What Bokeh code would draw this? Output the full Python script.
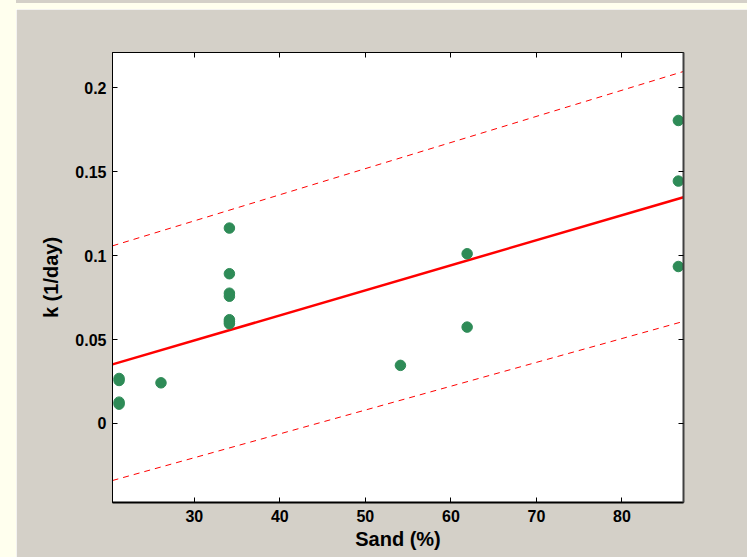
from bokeh.plotting import figure
from bokeh.models import LinearAxis, FixedTicker, Range1d, Div
from bokeh.layouts import row, column
from bokeh.embed import file_html
from bokeh.resources import INLINE

# ---- data ----
sand = [21.2, 21.2, 21.2, 21.2, 26.1, 34.1, 34.1, 34.1, 34.1, 34.1, 34.1, 34.1,
        54.1, 61.9, 61.9, 86.6, 86.6, 86.6]
k = [0.0268, 0.0256, 0.0127, 0.0115, 0.0242, 0.1164, 0.0892, 0.0776, 0.0758,
     0.0618, 0.0606, 0.0594, 0.0346, 0.1011, 0.0574, 0.1805, 0.1444, 0.0935]

fit_x = [20.43, 87.2]
fit_y = [0.0352, 0.1348]
upper_y = [0.1058, 0.2097]
lower_y = [-0.0340, 0.0608]

x_ticks = [30, 40, 50, 60, 70, 80]
y_ticks = [0, 0.05, 0.1, 0.15, 0.2]
y_tick_labels = ["0", "0.05", "0.1", "0.15", "0.2"]

GRAY = "#d4d0c8"
CREAM = "#ffffee"
FONT = "Liberation Sans"

p = figure(width=731, height=548, output_backend="svg", toolbar_location=None,
           x_range=Range1d(20.43, 87.2), y_range=Range1d(-0.0471, 0.2210),
           background_fill_color="white", border_fill_color=GRAY,
           min_border_left=96, min_border_right=64, min_border_top=43, min_border_bottom=55,
           x_axis_label="Sand (%)", y_axis_label="k (1/day)", margin=0)
p.grid.visible = False
p.outline_line_color = "black"
p.outline_line_width = 1

# lines
p.line(fit_x, upper_y, line_color="red", line_width=1, line_dash="6 5")
p.line(fit_x, lower_y, line_color="red", line_width=1, line_dash="6 5")
p.line(fit_x, fit_y, line_color="red", line_width=2.5)
p.scatter(sand, k, size=10.5, fill_color="#2e8b57", line_color="#2e8b57")

def style_axis(ax, show_labels=True):
    ax.major_tick_in = 5
    ax.major_tick_out = 0
    ax.minor_tick_in = 0
    ax.minor_tick_out = 0
    ax.major_tick_line_color = "black"
    ax.axis_line_color = "black"
    ax.major_label_text_font = FONT
    ax.major_label_text_font_style = "bold"
    ax.major_label_text_font_size = "16px"
    ax.major_label_text_color = "black"
    ax.axis_label_text_font = FONT
    ax.axis_label_text_font_style = "bold"
    ax.axis_label_text_font_size = "20px"
    ax.axis_label_text_color = "black"
    if not show_labels:
        ax.major_label_text_color = None
        ax.major_label_text_font_size = "0px"
        ax.major_label_standoff = 0

xa = p.xaxis[0]
xa.ticker = FixedTicker(ticks=x_ticks)
style_axis(xa)
xa.axis_line_width = 2
xa.major_label_standoff = 7
xa.axis_label_standoff = 3

ya = p.yaxis[0]
ya.ticker = FixedTicker(ticks=y_ticks)
ya.major_label_overrides = {t: s for t, s in zip(y_ticks, y_tick_labels)}
style_axis(ya)
ya.major_label_standoff = 6
ya.axis_label_standoff = 10

top = LinearAxis(ticker=FixedTicker(ticks=x_ticks))
style_axis(top, show_labels=False)
p.add_layout(top, "above")

right = LinearAxis(ticker=FixedTicker(ticks=y_ticks))
style_axis(right, show_labels=False)
right.axis_line_width = 2
right.axis_line_color = "#404040"
p.add_layout(right, "right")

left_strip = Div(width=16, height=557, styles={"background-color": CREAM}, margin=0)
top_gray = Div(width=731, height=3, styles={"background-color": GRAY}, margin=0)
top_cream = Div(width=731, height=6, styles={"background-color": CREAM}, margin=0)
layout = row(left_strip, column(top_gray, top_cream, p, spacing=0), spacing=0)

open("out.html", "w").write(file_html(layout, INLINE))
